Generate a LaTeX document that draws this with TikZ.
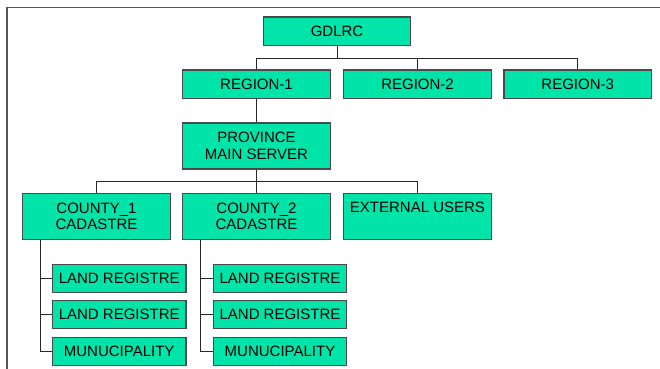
\documentclass[tikz,border=0pt]{standalone}
\usepackage{fontspec}
\setmainfont{Liberation Sans}
\definecolor{boxfill}{HTML}{00E3A9}
\definecolor{boxline}{HTML}{4A4A4A}
\definecolor{framecol}{HTML}{555555}
\begin{document}
\begin{tikzpicture}[x=1pt,y=-1pt,
  box/.style={draw=boxline, line width=1.1pt, fill=boxfill, rectangle, inner sep=3pt,
    minimum width=147.5pt, align=center, font=\fontsize{15}{16.7}\selectfont},
  onebox/.style={box, minimum height=28.5pt},
  twobox/.style={box, minimum height=46pt},
  leaf/.style={box, minimum width=133.5pt, minimum height=28pt},
  conn/.style={draw=black!85, line width=0.9pt}]
\useasboundingbox (0,0) rectangle (660,368);
\draw[framecol, line width=1.6pt] (6.7,370) -- (6.7,7.3) -- (662,7.3);

\node[onebox] (g) at (337,31.2) {GDLRC};
\node[onebox] (r1) at (256.5,84.2) {REGION-1};
\node[onebox] (r2) at (417.5,84.2) {REGION-2};
\node[onebox] (r3) at (577.7,84.2) {REGION-3};
\node[twobox] (p) at (256.5,146) {PROVINCE\\MAIN SERVER};
\node[twobox] (c1) at (96.5,216.2) {COUNTY\_1\\CADASTRE};
\node[twobox] (c2) at (256.5,216.2) {COUNTY\_2\\CADASTRE};
\node[box, text height=16.4pt, text depth=23.6pt] (ex) at (417.5,216.2) {EXTERNAL USERS};

\node[leaf] (a1) at (119.2,278.2) {LAND REGISTRE};
\node[leaf] (a2) at (119.2,314.5) {LAND REGISTRE};
\node[leaf] (a3) at (119.2,351.2) {MUNUCIPALITY};
\node[leaf] (b1) at (280,278.2) {LAND REGISTRE};
\node[leaf] (b2) at (280,314.5) {LAND REGISTRE};
\node[leaf] (b3) at (280,351.2) {MUNUCIPALITY};

\coordinate (gbus) at ([yshift=-12.5pt]g.south);
\draw[conn] (g.south) -- (gbus);
\draw[conn] (r1.north) |- (gbus) -| (r3.north);
\draw[conn] (r2.north) |- (gbus);
\draw[conn] (r1.south) -- (p.north);

\coordinate (pbus) at ([yshift=-11.7pt]p.south);
\draw[conn] (p.south) -- (pbus);
\draw[conn] (c1.north) |- (pbus) -| (ex.north);
\draw[conn] (c2.north) -- (pbus);

\coordinate (c1t) at ([xshift=18pt]c1.south west);
\draw[conn] (c1t) |- (a3.west);
\draw[conn] (c1t) |- (a1.west);
\draw[conn] (c1t) |- (a2.west);
\coordinate (c2t) at ([xshift=18.3pt]c2.south west);
\draw[conn] (c2t) |- (b3.west);
\draw[conn] (c2t) |- (b1.west);
\draw[conn] (c2t) |- (b2.west);
\end{tikzpicture}
\end{document}
